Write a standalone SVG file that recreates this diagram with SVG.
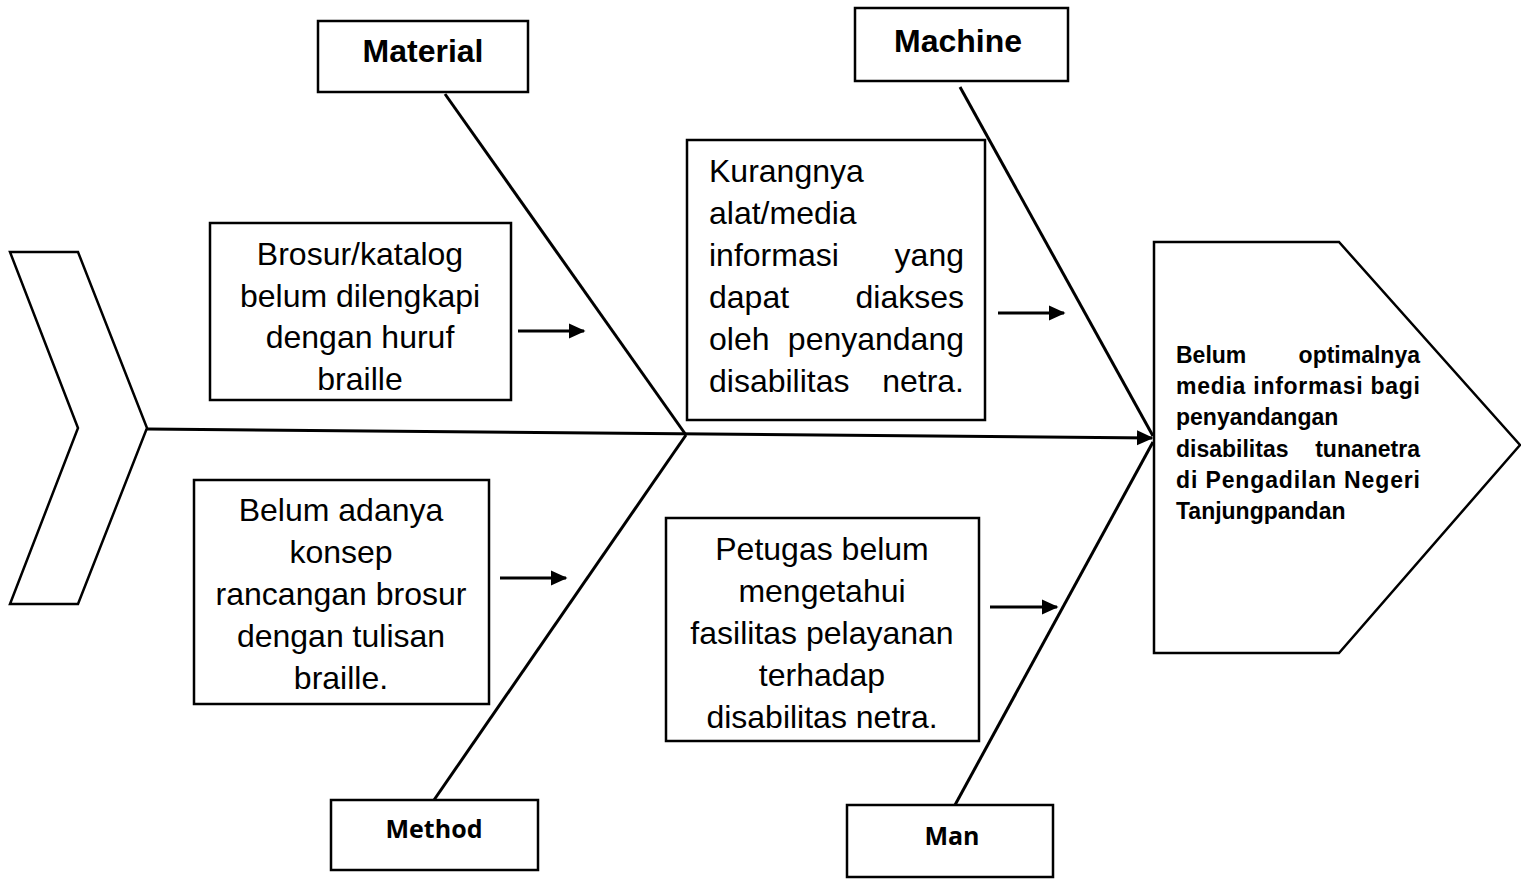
<svg xmlns="http://www.w3.org/2000/svg" width="1521" height="879" viewBox="0 0 1521 879">
<defs>
<style>
.box{fill:#fff;stroke:#000;stroke-width:2.5}
.t{font-family:"Liberation Sans",Arial,sans-serif;font-size:32px;fill:#000}
.c{text-anchor:middle}
.e{text-anchor:end}
.b{font-weight:bold}
.h{font-family:"Liberation Sans",Arial,sans-serif;font-size:23px;font-weight:bold;fill:#000}
.cal{font-family:"Open Sans",sans-serif;font-size:25px;font-weight:bold;fill:#000;text-anchor:middle}
.bone{stroke:#000;stroke-width:3;fill:none}
.arr{stroke:#000;stroke-width:3;fill:none}
</style>
<marker id="ah" markerWidth="6" markerHeight="6" refX="5" refY="3" orient="auto" markerUnits="strokeWidth">
<path d="M0,0.5 L5.5,3 L0,5.5 Z" fill="#000"/>
</marker>
</defs>
<rect width="1521" height="879" fill="#fff"/>

<g id="tail">
<polygon class="box" points="10,252 78,252 147,428 78,604 10,604 78,428"/>
</g>

<g id="connectors">
<line class="bone" x1="147" y1="429" x2="1152" y2="438" marker-end="url(#ah)" stroke-width="3.5"/>
<line class="bone" x1="445" y1="94" x2="686" y2="435"/>
<line class="bone" x1="686" y1="435" x2="434" y2="800"/>
<line class="bone" x1="960" y1="87" x2="1153" y2="436"/>
<line class="bone" x1="1153" y1="442" x2="955" y2="805"/>
<line class="arr" x1="518" y1="331" x2="584" y2="331" marker-end="url(#ah)"/>
<line class="arr" x1="998" y1="313" x2="1064" y2="313" marker-end="url(#ah)"/>
<line class="arr" x1="500" y1="578" x2="566" y2="578" marker-end="url(#ah)"/>
<line class="arr" x1="990" y1="607" x2="1057" y2="607" marker-end="url(#ah)"/>
</g>

<g id="head">
<polygon class="box" points="1154,242 1339,242 1520,445 1339,653 1154,653"/>
<text class="h" x="1176" y="363">Belum</text>
<text class="h e" x="1420" y="363">optimalnya</text>
<text class="h" x="1176" y="394" textLength="244" lengthAdjust="spacing">media informasi bagi</text>
<text class="h" x="1176" y="425">penyandangan</text>
<text class="h" x="1176" y="457">disabilitas</text>
<text class="h e" x="1420" y="457">tunanetra</text>
<text class="h" x="1176" y="488" textLength="244" lengthAdjust="spacing">di Pengadilan Negeri</text>
<text class="h" x="1176" y="519">Tanjungpandan</text>
</g>

<g id="material">
<rect class="box" x="318" y="21" width="210" height="71"/>
<text class="t b c" x="423" y="62">Material</text>
</g>

<g id="machine">
<rect class="box" x="855" y="8" width="213" height="73"/>
<text class="t b c" x="958" y="52">Machine</text>
</g>

<g id="method">
<rect class="box" x="331" y="800" width="207" height="70"/>
<text class="cal" x="434" y="838">Method</text>
</g>

<g id="man">
<rect class="box" x="847" y="805" width="206" height="72"/>
<text class="cal" x="952" y="845">Man</text>
</g>

<g id="cause-material">
<rect class="box" x="210" y="223" width="301" height="177"/>
<text class="t c" x="360" y="265">Brosur/katalog</text>
<text class="t c" x="360" y="307">belum dilengkapi</text>
<text class="t c" x="360" y="348">dengan huruf</text>
<text class="t c" x="360" y="390">braille</text>
</g>

<g id="cause-machine">
<rect class="box" x="687" y="140" width="298" height="280"/>
<text class="t" x="709" y="182">Kurangnya</text>
<text class="t" x="709" y="224">alat/media</text>
<text class="t" x="709" y="266">informasi</text>
<text class="t e" x="964" y="266">yang</text>
<text class="t" x="709" y="308">dapat</text>
<text class="t e" x="964" y="308">diakses</text>
<text class="t" x="709" y="350">oleh</text>
<text class="t e" x="964" y="350">penyandang</text>
<text class="t" x="709" y="392">disabilitas</text>
<text class="t e" x="964" y="392">netra.</text>
</g>

<g id="cause-method">
<rect class="box" x="194" y="480" width="295" height="224"/>
<text class="t c" x="341" y="521">Belum adanya</text>
<text class="t c" x="341" y="563">konsep</text>
<text class="t c" x="341" y="605">rancangan brosur</text>
<text class="t c" x="341" y="647">dengan tulisan</text>
<text class="t c" x="341" y="689">braille.</text>
</g>

<g id="cause-man">
<rect class="box" x="666" y="518" width="313" height="223"/>
<text class="t c" x="822" y="560">Petugas belum</text>
<text class="t c" x="822" y="602">mengetahui</text>
<text class="t c" x="822" y="644">fasilitas pelayanan</text>
<text class="t c" x="822" y="686">terhadap</text>
<text class="t c" x="822" y="728">disabilitas netra.</text>
</g>
</svg>
